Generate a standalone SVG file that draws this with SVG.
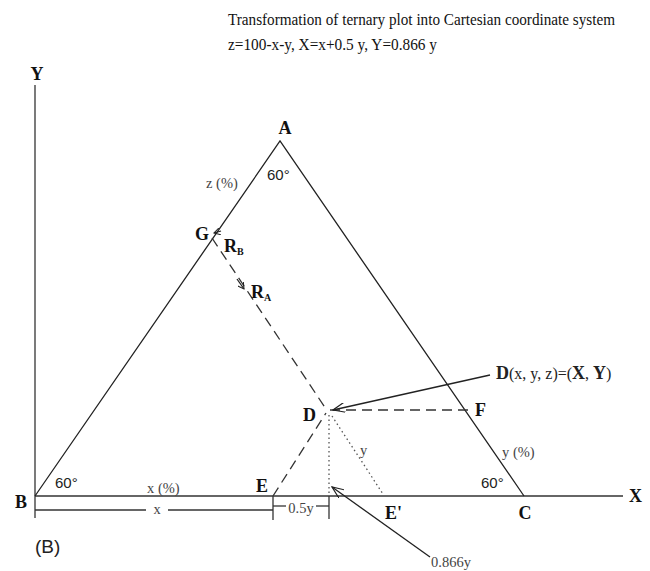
<svg xmlns="http://www.w3.org/2000/svg" width="650" height="571" viewBox="0 0 650 571">
<defs>
<style>
.ln{stroke:#222;stroke-width:1.3;fill:none}
.ax{stroke:#333;stroke-width:1.3;fill:none}
.dash{stroke:#333;stroke-width:1.3;fill:none;stroke-dasharray:10,6}
.dot{stroke:#555;stroke-width:1.3;fill:none;stroke-dasharray:1.5,3}
.lbl{font-family:"Liberation Serif",serif;font-weight:bold;font-size:18px;fill:#111}
.sm{font-family:"Liberation Serif",serif;font-size:14.5px;fill:#444}
.ang{font-family:"Liberation Sans",sans-serif;font-size:15px;fill:#222}
.ttl{font-family:"Liberation Serif",serif;font-size:16px;fill:#111}
</style>
<marker id="arr" viewBox="0 0 13 10" refX="12" refY="5" markerWidth="13" markerHeight="10" markerUnits="userSpaceOnUse" orient="auto">
<path d="M0,0 L12,5 L0,10" fill="none" stroke="#222" stroke-width="1.2"/>
</marker>
<marker id="sarr" viewBox="0 0 8 8" refX="7" refY="4" markerWidth="7" markerHeight="7" markerUnits="userSpaceOnUse" orient="auto">
<path d="M0,0 L7,4 L0,8" fill="none" stroke="#222" stroke-width="1.2"/>
</marker>
</defs>
<g id="title">
<text class="ttl" x="228" y="25" textLength="387" lengthAdjust="spacingAndGlyphs">Transformation of ternary plot into Cartesian coordinate system</text>
<text class="ttl" x="228" y="50" textLength="209" lengthAdjust="spacingAndGlyphs">z=100-x-y, X=x+0.5 y, Y=0.866 y</text>
</g>
<g id="axes">
<line class="ax" x1="35" y1="85" x2="35" y2="518"/>
<line class="ax" x1="35" y1="496" x2="623" y2="496"/>
<text class="lbl" x="37" y="80" text-anchor="middle">Y</text>
<text class="lbl" x="629" y="502">X</text>
</g>
<g id="triangle">
<polyline class="ln" points="35,496 280,141 524,496"/>
</g>
<g id="connectors">
<line class="dash" x1="212" y1="238" x2="326" y2="409"/>
<line class="dash" x1="330" y1="410" x2="468" y2="410"/>
<line class="dash" x1="273" y1="496" x2="326" y2="413"/>
<line class="dot" x1="329" y1="415" x2="329" y2="496"/>
<line class="dot" x1="332" y1="416" x2="383" y2="494"/>
<line class="ln" x1="490" y1="375" x2="333" y2="410" marker-end="url(#arr)"/>
<line class="ln" x1="430" y1="557" x2="332" y2="487" marker-end="url(#arr)"/>
<line class="ln" x1="221" y1="231" x2="214" y2="233" marker-end="url(#sarr)"/>
<line class="ln" x1="237" y1="279" x2="244" y2="289" marker-end="url(#sarr)"/>
</g>
<g id="dimensions">
<line class="ax" x1="35" y1="510" x2="146" y2="510"/>
<line class="ax" x1="168" y1="510" x2="273" y2="510"/>
<line class="ax" x1="273" y1="496" x2="273" y2="520"/>
<line class="ax" x1="329" y1="496" x2="329" y2="519"/>
<line class="ax" x1="273" y1="506" x2="286" y2="506"/>
<line class="ax" x1="316" y1="506" x2="329" y2="506"/>
<text class="sm" x="157" y="514" text-anchor="middle">x</text>
<text class="sm" x="301" y="513" text-anchor="middle">0.5y</text>
</g>
<g id="node-A"><text class="lbl" x="285" y="134" text-anchor="middle">A</text><text class="ang" x="267" y="180">60°</text><text class="sm" x="206" y="188">z (%)</text></g>
<g id="node-B"><text class="lbl" x="21" y="508" text-anchor="middle">B</text><text class="ang" x="55" y="488">60°</text><text class="sm" x="147" y="493">x (%)</text></g>
<g id="node-C"><text class="lbl" x="525" y="519" text-anchor="middle">C</text><text class="ang" x="481" y="488">60°</text><text class="sm" x="502" y="457">y (%)</text></g>
<g id="node-G"><text class="lbl" x="195" y="240">G</text>
<text class="lbl" x="224" y="252" font-size="16">R<tspan font-size="10" dy="3">B</tspan></text>
<text class="lbl" x="251" y="298" font-size="16">R<tspan font-size="10" dy="3">A</tspan></text></g>
<g id="node-D"><text class="lbl" x="303" y="421">D</text>
<text x="496" y="379" font-family="Liberation Serif,serif" font-size="16" fill="#222"><tspan font-weight="bold" font-size="18">D</tspan>(x, y, z)=(<tspan font-weight="bold" font-size="18">X</tspan>, <tspan font-weight="bold" font-size="18">Y</tspan>)</text></g>
<g id="node-E"><text class="lbl" x="256" y="492">E</text></g>
<g id="node-E2"><text class="lbl" x="385" y="519">E'</text></g>
<g id="node-F"><text class="lbl" x="475" y="416">F</text></g>
<g id="labels">
<text class="sm" x="360" y="455">y</text>
<text class="sm" x="431" y="567">0.866y</text>
<text x="35" y="553" font-family="Liberation Sans,sans-serif" font-size="19" fill="#222">(B)</text>
</g>
</svg>
